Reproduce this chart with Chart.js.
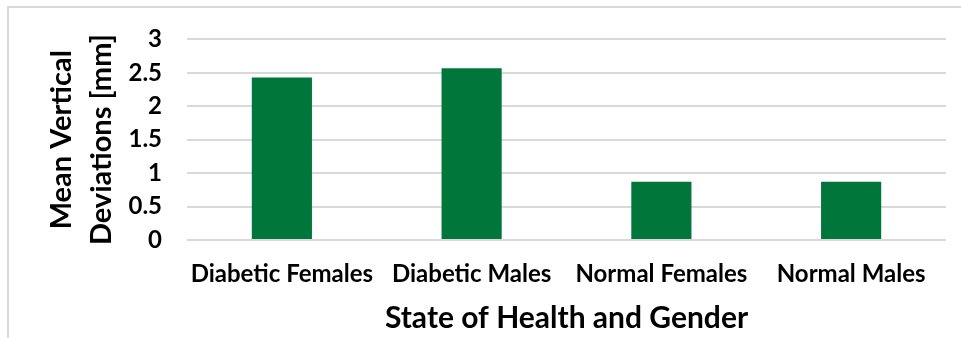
<!DOCTYPE html>
<html>
<head>
<meta charset="utf-8">
<script src="https://cdn.jsdelivr.net/npm/chart.js@4/dist/chart.umd.min.js"></script>
<style>
  html, body { margin: 0; padding: 0; background: #fff; overflow: hidden; }
  #frame {
    position: absolute; left: 7px; top: 6px;
    width: 2000px; height: 2000px;
    border: 2px solid #d9d9d9;
  }
  #chart { position: absolute; left: 0; top: 0; }
</style>
</head>
<body>
<div id="frame"></div>
<canvas id="chart" width="961" height="338"></canvas>
<script>
// groups and their mean vertical deviation (mm)
var categories = ['Diabetic Females', 'Diabetic Males', 'Normal Females', 'Normal Males'];
var deviations = [2.43, 2.57, 0.87, 0.87];
var yTicks = [0, 0.5, 1, 1.5, 2, 2.5, 3];
var xTitle = 'State of Health and Gender';
var yTitle = ['Mean Vertical', 'Deviations [mm]'];

var FONT = 'Lato, "Noto Sans", sans-serif';

var ctx = document.getElementById('chart').getContext('2d');
var chart = new Chart(ctx, {
    type: 'bar',
    data: {
        labels: categories,
        datasets: [{
            data: deviations,
            backgroundColor: '#00763b',
            borderWidth: 0,
            barPercentage: 0.317,
            categoryPercentage: 1
        }]
    },
    options: {
        responsive: false,
        animation: false,
        layout: { padding: { top: 32, right: 15, bottom: 0, left: 0 } },
        plugins: {
            legend: { display: false },
            tooltip: { enabled: false }
        },
        scales: {
            x: {
                grid: { display: false, drawTicks: false },
                border: { display: false },
                ticks: {
                    color: '#000',
                    padding: 20,
                    maxRotation: 0,
                    autoSkip: false,
                    font: { family: FONT, size: 24, weight: 'bold' }
                },
                title: {
                    display: true,
                    text: xTitle,
                    color: '#000',
                    padding: { top: 0, bottom: 2 },
                    font: { family: FONT, size: 30, weight: 'bold' }
                },
                afterFit: function (scale) { scale.height = 98; }
            },
            y: {
                min: 0,
                max: 3,
                grid: { color: '#d9d9d9', lineWidth: 2, drawTicks: false },
                border: { display: false },
                ticks: {
                    color: '#000',
                    padding: 25,
                    font: { family: FONT, size: 24, weight: 'bold' },
                    callback: function (value) { return String(value); }
                },
                afterBuildTicks: function (scale) {
                    scale.ticks = yTicks.map(function (v) { return { value: v }; });
                },
                title: {
                    display: true,
                    text: yTitle,
                    color: '#000',
                    padding: { top: 41, bottom: 0 },
                    font: { family: FONT, size: 29, weight: 'bold', lineHeight: 1.4 }
                },
                afterFit: function (scale) { scale.width = 187; }
            }
        }
    }
});
</script>
</body>
</html>
